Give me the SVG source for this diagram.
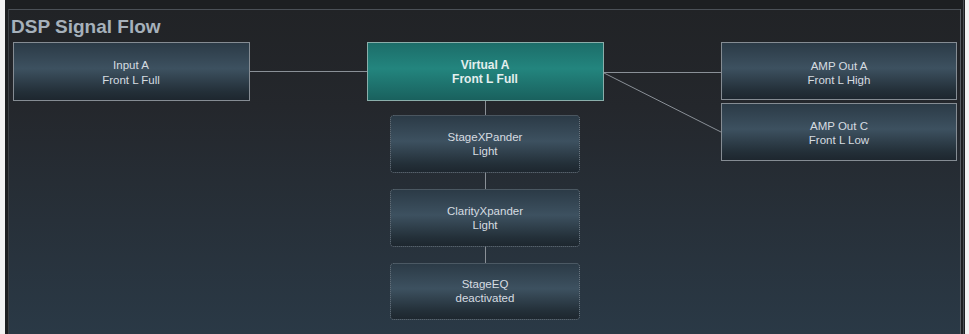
<svg xmlns="http://www.w3.org/2000/svg" width="969" height="334" viewBox="0 0 969 334">
<defs>
<linearGradient id="bg" x1="0" y1="0" x2="0" y2="1">
<stop offset="0" stop-color="#212326"/>
<stop offset="0.3" stop-color="#24272c"/>
<stop offset="1" stop-color="#2a3946"/>
</linearGradient>
<linearGradient id="node" x1="0" y1="0" x2="0" y2="1">
<stop offset="0" stop-color="#2b3a46"/>
<stop offset="0.45" stop-color="#3d5160"/>
<stop offset="0.85" stop-color="#232f38"/>
<stop offset="1" stop-color="#1d262e"/>
</linearGradient>
<linearGradient id="teal" x1="0" y1="0" x2="0" y2="1">
<stop offset="0" stop-color="#1c6d69"/>
<stop offset="0.45" stop-color="#23857e"/>
<stop offset="1" stop-color="#19605d"/>
</linearGradient>
</defs>
<style>
.box{fill:url(#node);stroke:#858c93;stroke-width:1}
.dot{fill:url(#node);stroke:#6f7c87;stroke-width:1;stroke-dasharray:1 1}
.sel{fill:url(#teal);stroke:#8aaeaa;stroke-width:1}
.t{font-family:"Liberation Sans",Arial,sans-serif;font-size:11.5px;fill:#d6dce1;text-anchor:middle}
.tb{font-family:"Liberation Sans",Arial,sans-serif;font-size:12px;font-weight:bold;fill:#e4efee;text-anchor:middle}
.title{font-family:"Liberation Sans",Arial,sans-serif;font-size:19px;font-weight:bold;fill:#a6b1bb}
.c{stroke:#8a9097;stroke-width:1;fill:none}
</style>
<rect x="0" y="0" width="969" height="334" fill="#f2f2f2"/>
<rect x="5" y="0" width="960" height="334" fill="#1d1f21"/>
<rect x="9" y="9" width="952" height="325" fill="url(#bg)"/>
<line x1="9" y1="9.5" x2="961" y2="9.5" stroke="#4b5056"/>
<line x1="8.5" y1="9" x2="8.5" y2="334" stroke="#3c4044"/>
<line x1="960.5" y1="9" x2="960.5" y2="334" stroke="#5a6066"/>
<line x1="963.5" y1="0" x2="963.5" y2="334" stroke="#4a4f54"/>
<text class="title" x="11" y="33">DSP Signal Flow</text>
<g id="connectors">
<line class="c" x1="250" y1="71.5" x2="367" y2="71.5"/>
<line class="c" x1="604" y1="72.5" x2="721" y2="72.5"/>
<line class="c" x1="604" y1="73" x2="721" y2="132"/>
<line class="c" x1="485.5" y1="101" x2="485.5" y2="115"/>
<line class="c" x1="485.5" y1="172" x2="485.5" y2="189"/>
<line class="c" x1="485.5" y1="246" x2="485.5" y2="263"/>
</g>
<g id="input-a">
<rect class="box" x="13.5" y="42.5" width="236" height="58"/>
<text class="t" x="131" y="69">Input A</text>
<text class="t" x="131" y="84">Front L Full</text>
</g>
<g id="virtual-a">
<rect class="sel" x="367.5" y="42.5" width="236" height="58"/>
<text class="tb" x="485" y="69">Virtual A</text>
<text class="tb" x="485" y="83">Front L Full</text>
</g>
<g id="amp-out-a">
<rect class="box" x="721.5" y="42.5" width="235" height="57"/>
<text class="t" x="839" y="70">AMP Out A</text>
<text class="t" x="839" y="84">Front L High</text>
</g>
<g id="amp-out-c">
<rect class="box" x="721.5" y="103.5" width="235" height="57"/>
<text class="t" x="839" y="130">AMP Out C</text>
<text class="t" x="839" y="144">Front L Low</text>
</g>
<g id="stagexpander">
<rect class="dot" x="390.5" y="115.5" width="189" height="57" rx="3"/>
<text class="t" x="485" y="141">StageXPander</text>
<text class="t" x="485" y="155">Light</text>
</g>
<g id="clarityxpander">
<rect class="dot" x="390.5" y="189.5" width="189" height="57" rx="3"/>
<text class="t" x="485" y="215">ClarityXpander</text>
<text class="t" x="485" y="229">Light</text>
</g>
<g id="stageeq">
<rect class="dot" x="390.5" y="263.5" width="189" height="56" rx="3"/>
<text class="t" x="485" y="288">StageEQ</text>
<text class="t" x="485" y="302">deactivated</text>
</g>
</svg>
